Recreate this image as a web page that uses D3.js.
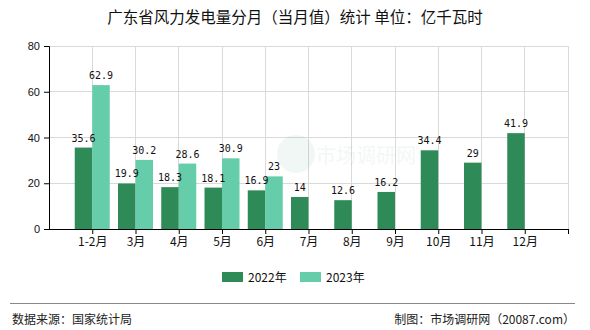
<!DOCTYPE html>
<html>
<head>
<meta charset="utf-8">
<script src="https://cdn.jsdelivr.net/npm/d3@7"></script>
<style>
  html, body { margin: 0; padding: 0; background: #fff; }
  svg { display: block; }
</style>
</head>
<body>
<svg id="chart" width="590" height="330"></svg>
<script>
// Monthly wind power generation, Guangdong (unit: 100 million kWh)
const categories = ["1-2月", "3月", "4月", "5月", "6月", "7月", "8月", "9月", "10月", "11月", "12月"];
const series2022 = [35.6, 19.9, 18.3, 18.1, 16.9, 14, 12.6, 16.2, 34.4, 29, 41.9];
const series2023 = [62.9, 30.2, 28.6, 30.9, 23, null, null, null, null, null, null];
const seriesNames = ["2022年", "2023年"];
const yTicks = [0, 20, 40, 60, 80];

const colors = ["#2e8b57", "#66cdaa"];
const cjk = "'Noto Sans CJK SC', 'Liberation Sans', sans-serif";

const svg = d3.select("#chart");
const plotLeft = 49, plotRight = 568, plotTop = 46, plotBottom = 229;

// Each month sits on a tick; one extra empty slot closes the axis on the right.
const slots = [...categories, "__end"];
const x = d3.scalePoint().domain(slots).range([plotLeft + (plotRight - plotLeft) / 12, plotRight]);
const y = d3.scaleLinear().domain([0, 80]).range([plotBottom, plotTop]);
const barW = 17.5;

// Title
svg.append("text")
  .attr("x", 295).attr("y", 23)
  .attr("text-anchor", "middle")
  .style("font-family", cjk).style("font-size", "15.5px").style("fill", "#111")
  .text("广东省风力发电量分月（当月值）统计 单位：亿千瓦时");

// Grid lines
const grid = svg.append("g");
grid.selectAll("line.h").data(yTicks.filter(t => t > 0)).join("line")
  .attr("x1", plotLeft).attr("x2", plotRight)
  .attr("y1", d => y(d)).attr("y2", d => y(d))
  .attr("stroke", "#d9d9d9").attr("stroke-width", 1).attr("shape-rendering", "crispEdges");
grid.selectAll("line.v").data(slots).join("line")
  .attr("x1", d => x(d)).attr("x2", d => x(d))
  .attr("y1", plotTop).attr("y2", plotBottom)
  .attr("stroke", "#d9d9d9").attr("stroke-width", 1).attr("shape-rendering", "crispEdges");

// Faint watermark (logo mark + site name)
const wm = svg.append("g").attr("opacity", 0.06);
wm.append("circle").attr("cx", 296).attr("cy", 154).attr("r", 19).attr("fill", "#2e8b57");
wm.append("text").attr("x", 316).attr("y", 163)
  .style("font-family", cjk).style("font-size", "20px").style("fill", "#2e8b57")
  .text("市场调研网");

// Bars
const data = categories.map((c, i) => ({ c, v: [series2022[i], series2023[i]] }));
const barG = svg.append("g");
const labelG = svg.append("g");
[0, 1].forEach(s => {
  const pts = data.filter(d => d.v[s] != null);
  barG.selectAll("rect.s" + s).data(pts).join("rect")
    .attr("class", "s" + s)
    .attr("x", d => x(d.c) - (s === 0 ? barW : 0))
    .attr("y", d => y(d.v[s]))
    .attr("width", barW)
    .attr("height", d => plotBottom - y(d.v[s]))
    .attr("fill", colors[s]);
  labelG.selectAll("text.s" + s).data(pts).join("text")
    .attr("class", "s" + s)
    .attr("x", d => x(d.c) + (s === 0 ? -barW / 2 : barW / 2))
    .attr("y", d => y(d.v[s]) - 6)
    .attr("text-anchor", "middle")
    .style("font-family", "'DejaVu Sans Mono', monospace").style("font-size", "10px").style("fill", "#111")
    .text(d => d.v[s]);
});

// Y axis
const yAxis = svg.append("g").attr("transform", `translate(${plotLeft},0)`)
  .call(d3.axisLeft(y).tickValues(yTicks).tickSize(5).tickPadding(4));
yAxis.select(".domain").attr("stroke", "#000");
yAxis.selectAll(".tick line").attr("stroke", "#000");
yAxis.selectAll("text").style("font-family", "'Liberation Sans', sans-serif").style("font-size", "11px").style("fill", "#111");

// X axis
const xAxis = svg.append("g").attr("transform", `translate(0,${plotBottom})`)
  .call(d3.axisBottom(x).tickSize(5).tickSizeOuter(0).tickPadding(3).tickFormat(d => d === "__end" ? "" : d));
xAxis.select(".domain").attr("d", `M${plotLeft},0.5H${plotRight}`).attr("stroke", "#000");
xAxis.selectAll(".tick line").attr("stroke", "#000");
xAxis.selectAll("text").style("font-family", cjk).style("font-size", "12px").style("fill", "#111");

// Legend
const legend = svg.append("g");
const lx = [222, 300];
seriesNames.forEach((n, i) => {
  legend.append("rect").attr("x", lx[i]).attr("y", 272).attr("width", 21).attr("height", 10).attr("fill", colors[i]);
  legend.append("text").attr("x", lx[i] + 26).attr("y", 281.5)
    .style("font-family", cjk).style("font-size", "12px").style("fill", "#111")
    .text(n);
});

// Footer
svg.append("line").attr("x1", 10).attr("x2", 575).attr("y1", 303.5).attr("y2", 303.5)
  .attr("stroke", "#888").attr("stroke-width", 1);
svg.append("text").attr("x", 12).attr("y", 324)
  .style("font-family", cjk).style("font-size", "12px").style("fill", "#222")
  .text("数据来源：国家统计局");
svg.append("text").attr("x", 575).attr("y", 324).attr("text-anchor", "end")
  .style("font-family", cjk).style("font-size", "12px").style("fill", "#222")
  .text("制图：市场调研网（20087.com）");
</script>
</body>
</html>
